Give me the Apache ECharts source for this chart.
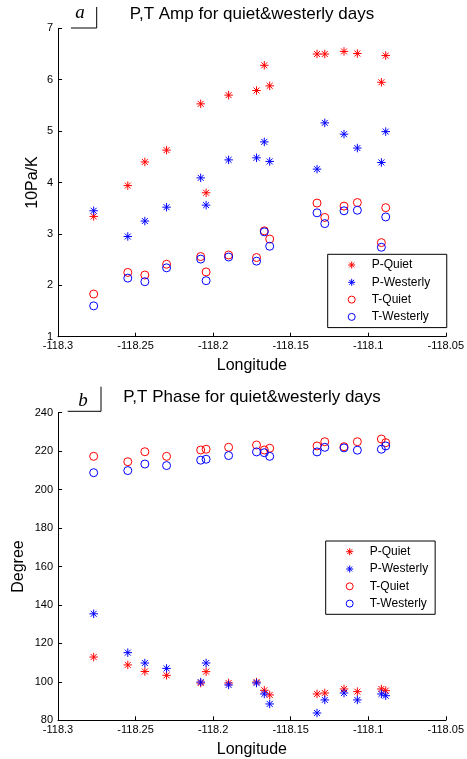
<!DOCTYPE html>
<html>
<head>
<meta charset="UTF-8">
<title></title>
<script src="https://cdn.jsdelivr.net/npm/echarts@6/dist/echarts.min.js" type="text/javascript" charset="utf-8"></script>
</head>
<body style="margin:0;background:#fff">
<div id="chart" style="width:467px;height:759px;"></div>
<script type="text/javascript">
// station longitudes
var lon = [-118.277, -118.255, -118.244, -118.230, -118.208, -118.2045, -118.190, -118.172,
           -118.167, -118.1635, -118.133, -118.128, -118.1156, -118.107, -118.0915, -118.0887];

// (a) amplitude, 10Pa/K
var ampPQuiet = [3.34, 3.94, 4.40, 4.63, 5.53, 3.80, 5.70, 5.79, 6.28, 5.88, 6.50, 6.50, 6.55, 6.51, 5.95, 6.47];
var ampPWest  = [3.45, 2.95, 3.25, 3.52, 4.09, 3.56, 4.44, 4.48, 4.79, 4.41, 4.26, 5.16, 4.94, 4.67, 4.39, 4.99];
var ampTQuiet = [1.83, 2.25, 2.20, 2.41, 2.56, 2.26, 2.59, 2.54, 3.06, 2.90, 3.60, 3.32, 3.54, 3.61, 2.83, 3.51];
var ampTWest  = [1.60, 2.14, 2.07, 2.34, 2.51, 2.09, 2.55, 2.47, 3.04, 2.76, 3.41, 3.20, 3.45, 3.46, 2.74, 3.33];

// (b) phase, degree
var phPQuiet = [112.9, 108.8, 105.4, 103.4, 99.4, 105.3, 99.4, 99.9, 95.6, 93.2, 93.7, 94.2, 96.3, 94.9, 96.3, 95.4];
var phPWest  = [135.4, 115.2, 109.8, 107.0, 99.9, 109.8, 98.4, 99.4, 93.7, 88.5, 83.8, 90.6, 94.2, 90.6, 93.7, 92.8];
var phTQuiet = [217.3, 214.5, 219.7, 217.3, 220.6, 221.0, 222.0, 223.2, 220.6, 221.5, 222.7, 224.9, 222.3, 224.9, 226.3, 224.4];
var phTWest  = [208.8, 209.9, 213.3, 212.5, 215.3, 215.8, 217.7, 219.6, 219.2, 217.3, 219.6, 222.0, 221.7, 220.5, 221.0, 222.7];

var names = ['P-Quiet', 'P-Westerly', 'T-Quiet', 'T-Westerly'];

var star = 'path://M0,-10L0,10M-10,0L10,0M-7,-7L7,7M-7,7L7,-7';
var red = '#ff0000', blue = '#0000ff';

function pts(ys) {
  return lon.map(function (x, i) { return [x, ys[i]]; });
}

function mk(name, gi, ys, isStar, color) {
  return {
    name: name,
    type: 'scatter',
    xAxisIndex: gi,
    yAxisIndex: gi,
    symbol: isStar ? star : 'circle',
    symbolSize: isStar ? 8.5 : 8,
    itemStyle: {color: 'transparent', borderColor: color, borderWidth: 1, opacity: 1},
    emphasis: {disabled: true},
    data: pts(ys)
  };
}

function xAx(gi) {
  return {
    type: 'value', gridIndex: gi,
    min: -118.3, max: -118.05, interval: 0.05,
    name: 'Longitude', nameLocation: 'middle', nameGap: 21, nameMoveOverlap: false,
    nameTextStyle: {fontSize: 16, color: '#000', fontFamily: 'Liberation Sans'},
    axisLine: {show: true, onZero: false, lineStyle: {color: '#000', width: 1}},
    axisTick: {show: true, inside: true, length: 4, lineStyle: {color: '#000'}},
    axisLabel: {fontSize: 11, color: '#000', margin: 4, fontFamily: 'Liberation Sans',
      showMinLabel: true, showMaxLabel: true,
      formatter: function (v) { return String(Number(v.toFixed(2))); }},
    splitLine: {show: false}
  };
}

function yAx(gi, min, max, step, name, gap) {
  return {
    type: 'value', gridIndex: gi,
    min: min, max: max, interval: step,
    name: name, nameLocation: 'middle', nameGap: gap, nameMoveOverlap: false,
    nameTextStyle: {fontSize: 16, color: '#000', fontFamily: 'Liberation Sans'},
    axisLine: {show: true, onZero: false, lineStyle: {color: '#000', width: 1}},
    axisTick: {show: true, inside: true, length: 4, lineStyle: {color: '#000'}},
    axisLabel: {fontSize: 11, color: '#000', margin: 5, fontFamily: 'Liberation Sans',
      showMinLabel: true, showMaxLabel: true},
    splitLine: {show: false}
  };
}

function lg(left, top, padRight) {
  return {
    data: names, orient: 'vertical', left: left, top: top,
    itemWidth: 30, itemHeight: 7, itemGap: 5.3,
    padding: [4.7, padRight, 4.7, 20],
    borderColor: '#000', borderWidth: 1, borderRadius: 0, backgroundColor: '#fff',
    selectedMode: false,
    itemStyle: {color: 'transparent', borderWidth: 1},
    textStyle: {fontSize: 12, color: '#000', lineHeight: 12, fontFamily: 'Liberation Sans'}
  };
}

var chart = echarts.init(document.getElementById('chart'));
var option = {
  animation: false,
  backgroundColor: '#fff',
  title: [
    {text: 'P,T Amp for quiet&westerly days', left: 252, top: 6, textAlign: 'center', padding: 0,
     textStyle: {fontSize: 17, fontWeight: 'normal', color: '#000', fontFamily: 'Liberation Sans'}},
    {text: 'P,T Phase for quiet&westerly days', left: 252, top: 389, textAlign: 'center', padding: 0,
     textStyle: {fontSize: 17, fontWeight: 'normal', color: '#000', fontFamily: 'Liberation Sans'}}
  ],
  grid: [
    {left: 58, top: 28.3, width: 390, height: 308.4},
    {left: 58, top: 412.7, width: 390, height: 307.6}
  ],
  xAxis: [xAx(0), xAx(1)],
  yAxis: [yAx(0, 1, 7, 1, '10Pa/K', 17), yAx(1, 80, 240, 20, 'Degree', 31)],
  legend: [lg(327.7, 254.3, 16.6), lg(325.7, 541, 7)],
  graphic: [
    {type: 'polyline', shape: {points: [[71, 28], [96.7, 28], [96.7, 7]]}, style: {stroke: '#000', lineWidth: 1, fill: null}},
    {type: 'text', style: {text: 'a', x: 80, y: 12.9, textAlign: 'center', textVerticalAlign: 'middle',
      font: 'italic 19px "Liberation Serif"', fill: '#000'}},
    {type: 'polyline', shape: {points: [[67.7, 411.3], [101, 411.3], [101, 386.7]]}, style: {stroke: '#000', lineWidth: 1, fill: null}},
    {type: 'text', style: {text: 'b', x: 83, y: 400.6, textAlign: 'center', textVerticalAlign: 'middle',
      font: 'italic 19px "Liberation Serif"', fill: '#000'}}
  ],
  series: [
    mk('P-Quiet', 0, ampPQuiet, true, red),
    mk('P-Westerly', 0, ampPWest, true, blue),
    mk('T-Quiet', 0, ampTQuiet, false, red),
    mk('T-Westerly', 0, ampTWest, false, blue),
    mk('P-Quiet', 1, phPQuiet, true, red),
    mk('P-Westerly', 1, phPWest, true, blue),
    mk('T-Quiet', 1, phTQuiet, false, red),
    mk('T-Westerly', 1, phTWest, false, blue)
  ]
};
chart.setOption(option, true);
</script>
</body>
</html>
